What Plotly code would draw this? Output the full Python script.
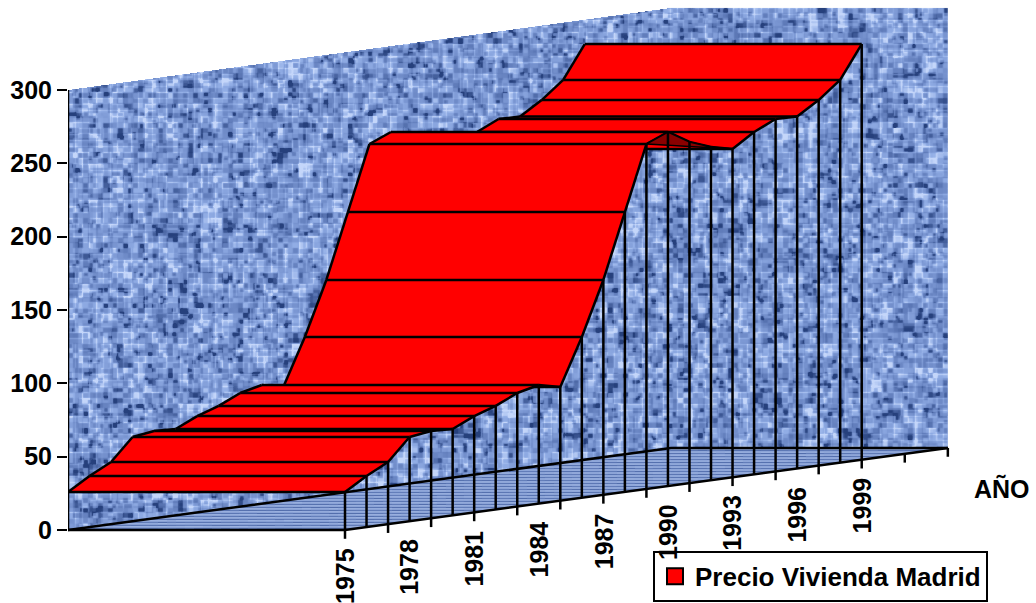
import base64
import struct
import zlib

import numpy as np
import plotly.graph_objects as go

years = list(range(1975, 2000))
precio = [25.9, 34.8, 42.4, 57.4, 59.5, 58.9, 65.7, 70.6, 77.4, 80.9,
          77.5, 109.6, 146.5, 190.8, 235.2, 241.4, 232.6, 227.2, 223.8,
          233.4, 240.3, 239.9, 249.2, 260.9, 283.4]
y_ticks = [0, 50, 100, 150, 200, 250, 300]
label_years = list(range(1975, 2000, 3))
tick_years = list(range(1975, 2004, 2))
series_name = "Precio Vivienda Madrid"
axis_title = "AÑO"
hidden_rungs = [1991, 1992]
underside_years = [1989, 1990, 1991, 1992, 1993]

PX_YEAR = 21.53
PX_VALUE = 1.4667
SHEAR = 2.93 / PX_VALUE   # value units per year of the oblique floor
DEPTH = 277 / PX_YEAR     # years of horizontal shift front to back
Y0, YEND = 1975, 2003
LW = 2.5


def P(year, value, depth=0.0):
    return year - depth * DEPTH, value + (year - Y0) * SHEAR


def poly(points):
    xs, ys = zip(*points)
    return list(xs) + [xs[0]], list(ys) + [ys[0]]


def hash_noise(i, j, salt):
    """Deterministic 0..1 cell values for the cloth texture."""
    a = (i.astype(np.uint64) * np.uint64(73856093)) ^ (j.astype(np.uint64) * np.uint64(19349663)) ^ np.uint64(salt)
    a = a * np.uint64(2654435761) + np.uint64(12345)
    a = a ^ (a >> np.uint64(13))
    a = a * np.uint64(1274126177)
    a = a ^ (a >> np.uint64(16))
    return (a % np.uint64(1024)).astype(float) / 1023.0


def blur(a):
    return (2 * a + np.roll(a, 1, 0) + np.roll(a, -1, 0) + np.roll(a, 1, 1) + np.roll(a, -1, 1)) / 6


def png_uri(rgba):
    h, w, _ = rgba.shape
    raw = b"".join(b"\x00" + rgba[r].tobytes() for r in range(h))

    def chunk(tag, data):
        return struct.pack(">I", len(data)) + tag + data + struct.pack(">I", zlib.crc32(tag + data) & 0xffffffff)

    blob = b"\x89PNG\r\n\x1a\n" + chunk(b"IHDR", struct.pack(">IIBBBBB", w, h, 8, 6, 0, 0, 0)) \
        + chunk(b"IDAT", zlib.compress(raw, 9)) + chunk(b"IEND", b"")
    return "data:image/png;base64," + base64.b64encode(blob).decode()


def ramp(t, stops):
    t = np.clip(t, 0, 1)
    pos = np.linspace(0, 1, len(stops))
    return np.stack([np.interp(t, pos, [s[c] for s in stops]) for c in range(3)], axis=-1)


def cloth_image():
    x_min, _ = P(Y0, 0, 1)
    _, y_top = P(YEND, 300, 1)
    x_max, _ = P(YEND, 0, 0)
    w = int(round((x_max - x_min) * PX_YEAR))
    h = int(round((y_top + 1) * PX_VALUE))
    jj, ii = np.mgrid[0:h, 0:w]
    X = x_min + (ii + 0.5) / PX_YEAR
    Y = y_top - (jj + 0.5) / PX_VALUE

    # woven wall: vertical and horizontal threads crossing in 5-7 px blocks
    warp = hash_noise(ii // 7, jj // 12, 5)
    weft = hash_noise(ii // 11, jj // 6, 7)
    cell = hash_noise(ii // 5, jj // 5, 11)
    dark = hash_noise(ii // 4, jj // 4, 23)
    t = 0.3 * warp + 0.25 * weft + 0.45 * cell
    t = np.where(dark < 0.07, t - 0.26, t)
    t = np.where((ii % 7 == 0) & (warp > 0.5), t + 0.2, t)
    t = np.where((jj % 6 == 0) & (weft > 0.5), t + 0.2, t)
    t = blur(t)
    wall_rgb = ramp((t - 0.12) * 1.3, [(38, 64, 124), (96, 124, 186), (122, 150, 210), (146, 174, 230), (196, 214, 250)])

    # floor: fine horizontal lines
    f = 0.55 + 0.38 * np.sin(jj * 2.1) * (0.6 + 0.4 * hash_noise(ii // 9, jj // 2, 17))
    floor_rgb = ramp(f, [(62, 90, 155), (122, 148, 205), (176, 196, 236)])

    corner_x, _ = P(YEND, 0, 1)
    back_floor = np.where(X < corner_x, (X - (Y0 - DEPTH)) * SHEAR, (YEND - Y0) * SHEAR)
    front_floor = (X - Y0) * SHEAR
    wall_top = back_floor + 300
    in_wall = (Y >= back_floor) & (Y <= wall_top)
    in_floor = (Y < back_floor) & (Y >= np.where(X > Y0, front_floor, 0))

    rgb = np.where(in_floor[..., None], floor_rgb, wall_rgb)
    alpha = ((in_wall | in_floor) * 255).astype(np.uint8)
    rgba = np.dstack([rgb.astype(np.uint8), alpha])
    return png_uri(rgba), x_min, x_max, y_top, y_top - h / PX_VALUE


fig = go.Figure()


def black(points, width=LW):
    xs, ys = zip(*points)
    fig.add_trace(go.Scatter(x=list(xs), y=list(ys), mode="lines",
                             line=dict(color="black", width=width),
                             hoverinfo="skip", showlegend=False))


uri, ix0, ix1, iy1, iy0 = cloth_image()

# floor and wall edges
black([P(Y0, 300, 1), P(Y0, 0, 1), P(Y0, 0, 0), P(YEND, 0, 0)])
black([P(Y0, 0, 1), P(YEND, 0, 1), P(YEND, 0, 0)])

# ribbon, painted from the back years to the front years
for i in range(len(years) - 1, 0, -1):
    a, b = i - 1, i
    quad = [P(years[a], precio[a], 0), P(years[b], precio[b], 0),
            P(years[b], precio[b], 1), P(years[a], precio[a], 1)]
    x, y = poly(quad)
    fig.add_trace(go.Scatter(x=x, y=y, mode="lines", fill="toself", fillcolor="#ff0000",
                             line=dict(width=0), hoverinfo="skip", showlegend=False))
    black([P(years[a], precio[a], 1), P(years[b], precio[b], 1)])
    black([P(years[a], precio[a], 0), P(years[b], precio[b], 0)])
    if years[b] not in hidden_rungs:
        black([P(years[b], precio[b], 1), P(years[b], precio[b], 0)])
black([P(years[0], precio[0], 1), P(years[0], precio[0], 0)])

# dark underside seen under the 1990 hump
under = [P(yr, precio[years.index(yr)], 0) for yr in underside_years]
x, y = poly(under)
fig.add_trace(go.Scatter(x=x, y=y, mode="lines", fill="toself", fillcolor="#8a0000",
                         line=dict(color="black", width=1.5), hoverinfo="skip", showlegend=False))

# drop lines from the front edge to the floor
for yr, v in zip(years, precio):
    black([P(yr, v, 0), P(yr, 0, 0)])

# category ticks
for yr in tick_years:
    black([P(yr, 0, 0), P(yr, -6, 0)])

# legend entry
fig.add_trace(go.Scatter(x=[None], y=[None], mode="markers", name=series_name,
                         marker=dict(symbol="square", size=17, color="#ff0000",
                                     line=dict(color="black", width=2))))

annotations = []
for yr in label_years:
    px, py = P(yr, 0, 0)
    annotations.append(dict(x=px, y=py, xref="x", yref="y", text=f"<b>{yr}</b>", showarrow=False,
                            textangle=-90, xanchor="center", yanchor="top", yshift=-16,
                            font=dict(family="Liberation Sans", size=25, color="black")))
annotations.append(dict(x=(1002 - 68) / (1036 - 68), y=1 - 488 / 603, xref="paper", yref="paper",
                        xanchor="center", yanchor="middle",
                        text=f"<b>{axis_title}</b>", showarrow=False,
                        font=dict(family="Liberation Sans", size=25, color="black")))

fig.update_layout(
    width=1036, height=603, autosize=False,
    margin=dict(l=68, r=0, t=0, b=0),
    paper_bgcolor="white", plot_bgcolor="white",
    showlegend=True,
    legend=dict(x=(653 - 68) / (1036 - 68), y=0.002, xanchor="left", yanchor="bottom",
                bgcolor="white", bordercolor="black", borderwidth=2,
                font=dict(family="Liberation Sans", size=26, color="black", weight="bold"),
                itemwidth=30),
    annotations=annotations,
    images=[dict(source=uri, xref="x", yref="y", x=ix0, y=iy1, sizex=ix1 - ix0, sizey=iy1 - iy0,
                 sizing="stretch", xanchor="left", yanchor="top", layer="below")],
    xaxis=dict(range=[Y0 - DEPTH, Y0 + (1036 - 345) / PX_YEAR], visible=False, fixedrange=True),
    yaxis=dict(range=[-(603 - 530) / PX_VALUE, 530 / PX_VALUE], tickvals=y_ticks,
               ticks="outside", ticklen=10, tickwidth=2, tickcolor="black",
               showgrid=False, zeroline=False, showline=False, fixedrange=True,
               tickfont=dict(family="Liberation Sans", size=25, color="black", weight="bold")),
)
fig.write_html("out.html", config={"displayModeBar": False},
               post_script="document.body.style.margin='0';document.documentElement.style.overflow='hidden';")
